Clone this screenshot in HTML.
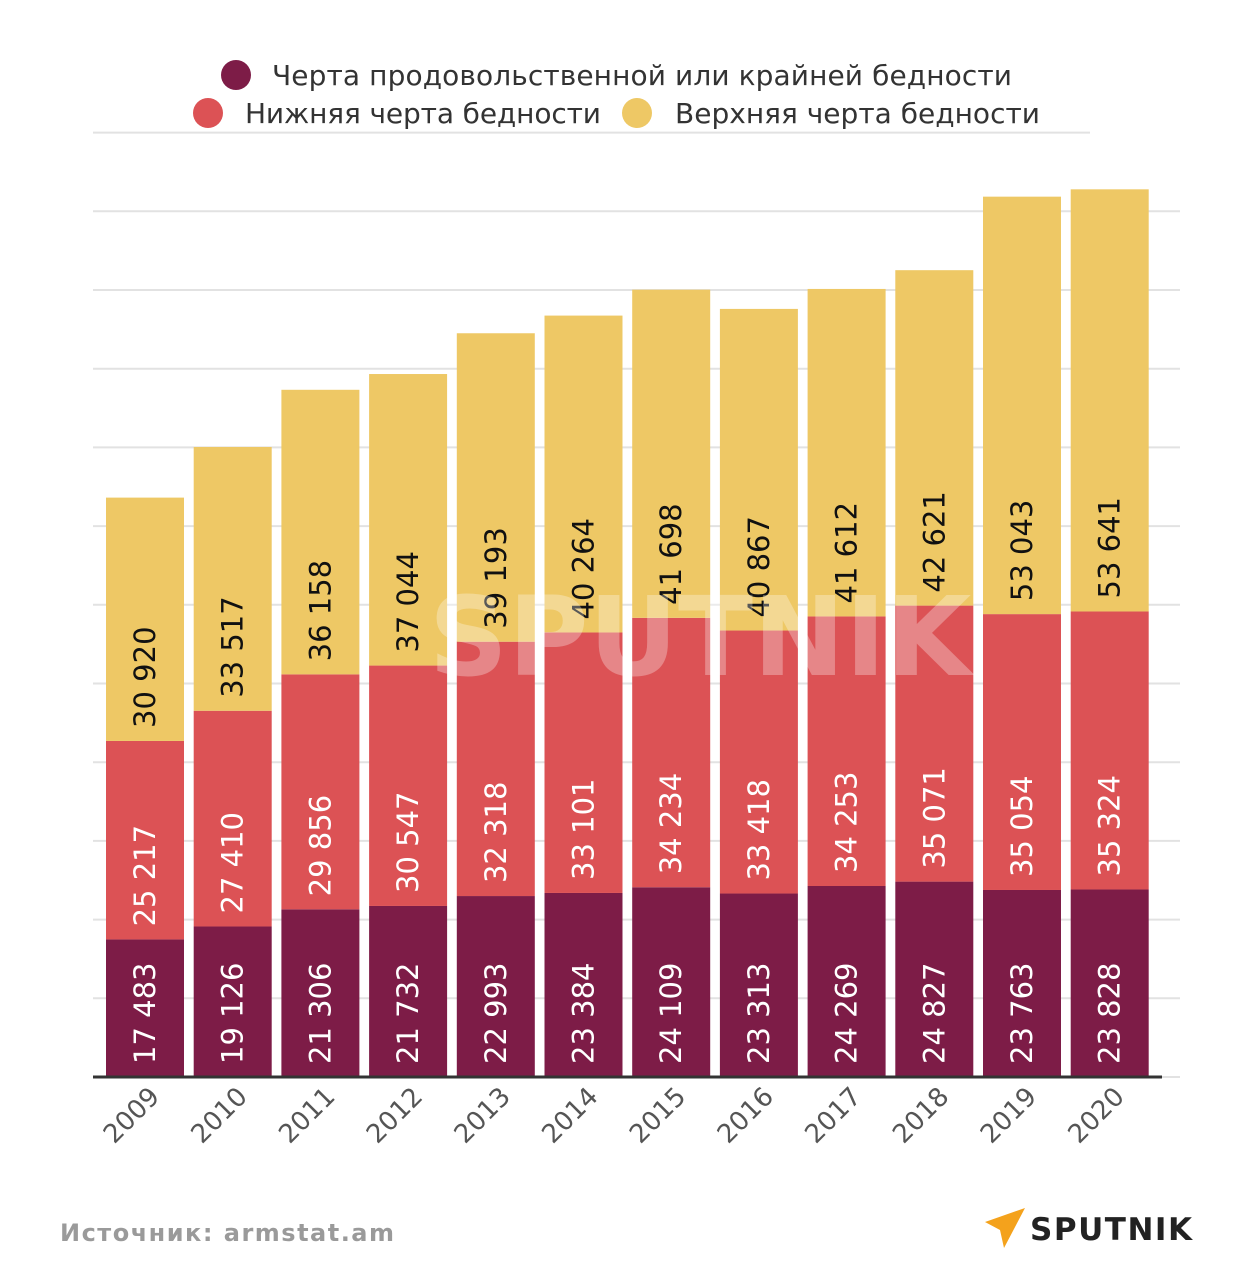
<!DOCTYPE html>
<html><head><meta charset="utf-8">
<style>
html,body{margin:0;padding:0;background:#fff;}
body{width:1255px;height:1280px;overflow:hidden;font-family:"DejaVu Sans","Liberation Sans",sans-serif;}
</style></head>
<body>
<svg id="chart" width="1255" height="1280" xmlns="http://www.w3.org/2000/svg" font-family="DejaVu Sans, Liberation Sans, sans-serif">
  <g>
    <circle cx="236" cy="75" r="15" fill="#7d1c47"/>
    <text x="272" y="85" font-size="28" fill="#333" textLength="740">Черта продовольственной или крайней бедности</text>
    <circle cx="208" cy="113" r="15" fill="#dc5255"/>
    <text x="245" y="123" font-size="28" fill="#333" textLength="356">Нижняя черта бедности</text>
    <circle cx="637" cy="113" r="15" fill="#eec865"/>
    <text x="675" y="123" font-size="28" fill="#333" textLength="365">Верхняя черта бедности</text>
  </g>
  <g id="grid"></g>
  <g id="bars"></g>
  <g id="labels"></g>
  <text x="700" y="675" font-size="110" font-weight="bold" fill="#fff" fill-opacity="0.3" text-anchor="middle">SPUTNIK</text>
  <line x1="93" y1="1077" x2="1162" y2="1077" stroke="#333" stroke-width="3"/>
  <g id="xlabels"></g>
  <text x="60" y="1241" font-size="24" font-weight="bold" fill="#9a9a9a" textLength="334">Источник: armstat.am</text>
  <g>
    <path d="M985 1222 L1025 1208 L1004 1248 L1000 1230 Z" fill="#f4a21c"/>
    <text x="1030" y="1240" font-size="31" font-weight="bold" fill="#222" textLength="162">SPUTNIK</text>
  </g>
</svg>
<script>
const years = ["2009","2010","2011","2012","2013","2014","2015","2016","2017","2018","2019","2020"];
const extreme = [17483,19126,21306,21732,22993,23384,24109,23313,24269,24827,23763,23828];
const lower = [25217,27410,29856,30547,32318,33101,34234,33418,34253,35071,35054,35324];
const upper = [30920,33517,36158,37044,39193,40264,41698,40867,41612,42621,53043,53641];
const gridTicks = [0,10000,20000,30000,40000,50000,60000,70000,80000,90000,100000,110000,120000];

const NS = "http://www.w3.org/2000/svg";
const base = 1077, k = 0.00787;
const y = v => base - v * k;
const x0 = 106, pitch = 87.7, bw = 78;
const xb = i => x0 + i * pitch;
function mk(tag, attrs, parent){const e=document.createElementNS(NS,tag);for(const a in attrs)e.setAttribute(a,attrs[a]);parent.appendChild(e);return e;}
const fmt = v => String(v).replace(/\B(?=(\d{3})+(?!\d))/g," ");

const grid = document.getElementById("grid");
gridTicks.forEach((t,i)=>{
  const l = mk("line",{x1:93,x2:i===12?1090:1180,y1:y(t),y2:y(t),stroke:"#e2e2e2","stroke-width":2},grid);
  
  
});

const bars = document.getElementById("bars"), labels = document.getElementById("labels"), xl = document.getElementById("xlabels");
const series = [[extreme,"#7d1c47","#fff"],[lower,"#dc5255","#fff"],[upper,"#eec865","#111"]];
years.forEach((yr,i)=>{
  let cum = 0;
  series.forEach(([arr,col,tc],s)=>{
    const v = arr[i], b = cum, t = cum + v; cum = t;
    const r = mk("rect",{x:xb(i),y:y(t),width:bw,height:y(b)-y(t),fill:col},bars);
    
    
    const cx = xb(i)+bw/2+10, by = y(b)-13;
    const tx = mk("text",{x:cx,y:by,"font-size":29,fill:tc,transform:`rotate(-90 ${cx} ${by})`},labels);
    tx.textContent = fmt(v);
    
    
  });
  const lx = xb(i)+bw/2+16, ly = 1098;
  const t = mk("text",{x:lx,y:ly,"font-size":26,fill:"#555","text-anchor":"end",transform:`rotate(-45 ${lx} ${ly})`},xl);
  t.textContent = yr;
  
  
});
</script>
</body></html>
